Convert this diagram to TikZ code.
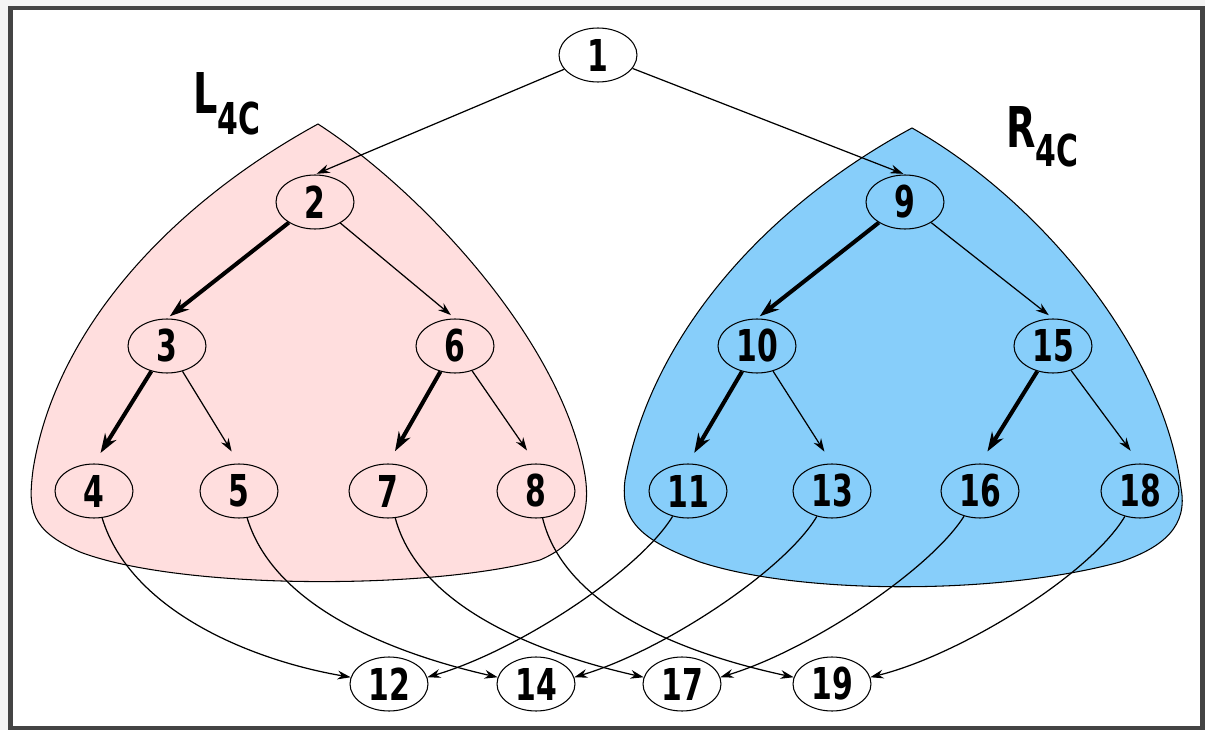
\documentclass[tikz,border=0pt]{standalone}
\usepackage{fontspec}
\setmainfont{DejaVu Sans}[FakeStretch=0.68]
\usetikzlibrary{arrows.meta,shapes.geometric}
\definecolor{leftfill}{RGB}{255,222,222}
\definecolor{rightfill}{RGB}{135,206,250}
\definecolor{framegray}{RGB}{68,68,68}
\definecolor{outside}{RGB}{244,244,244}
\begin{document}
\begin{tikzpicture}[x=0.02cm,y=-0.02cm,
  vertex/.style={ellipse,draw,line width=0.6pt,minimum width=1.56cm,
    minimum height=1.08cm,inner sep=0pt,
    font=\fontsize{25}{25}\selectfont\bfseries},
  thinedge/.style={-{Stealth[length=7.5pt,width=5pt]},line width=0.7pt},
  thickedge/.style={-{Stealth[length=11pt,width=7.5pt]},line width=2.3pt},
  crossedge/.style={-{Stealth[length=7.5pt,width=5pt]},line width=0.7pt},
  region/.style={draw,line width=0.6pt},
  setlabel/.style={inner sep=0pt,anchor=base west,
    font=\fontsize{32}{32}\selectfont\bfseries}
]
% page background and frame
\fill[outside] (0,0) rectangle (1205,730);
\useasboundingbox (0,0) rectangle (1205,730);
\draw[framegray,fill=white,line width=2.8pt] (10.5,8) rectangle (1202.5,728);

% the two shaded subtrees
\path[region,fill=leftfill] (318,124)
  .. controls (170,205) and (55,330) .. (33,470)
  .. controls (28,510) and (30,530) .. (80,552)
  .. controls (180,590) and (430,590) .. (540,560)
  .. controls (575,545) and (592,520) .. (585,475)
  .. controls (562,340) and (420,190) .. cycle;
\path[region,fill=rightfill] (912,128)
  .. controls (760,210) and (650,340) .. (625,480)
  .. controls (620,520) and (640,540) .. (700,562)
  .. controls (800,595) and (1000,595) .. (1120,562)
  .. controls (1165,547) and (1188,525) .. (1181,488)
  .. controls (1164,350) and (1040,200) .. cycle;

% set labels
\node[setlabel] (lab L) at (193,113) {L{\fontsize{25}{25}\selectfont\raisebox{-12pt}{4C}}};
\node[setlabel] (lab R) at (1006,147) {R{\fontsize{25}{25}\selectfont\raisebox{-11pt}{4C}}};

% vertices
\node[vertex] (n1) at (598,55) {1};
\node[vertex] (n2) at (315,202) {2};
\node[vertex] (n9) at (905,202) {9};
\node[vertex] (n3) at (167,346) {3};
\node[vertex] (n6) at (455,346) {6};
\node[vertex] (n10) at (757,346) {10};
\node[vertex] (n15) at (1053,346) {15};
\node[vertex] (n4) at (94,491) {4};
\node[vertex] (n5) at (239,491) {5};
\node[vertex] (n7) at (388,491) {7};
\node[vertex] (n8) at (536,491) {8};
\node[vertex] (n11) at (688,491) {11};
\node[vertex] (n13) at (832,491) {13};
\node[vertex] (n16) at (980,491) {16};
\node[vertex] (n18) at (1140,491) {18};
\node[vertex] (n12) at (389,684) {12};
\node[vertex] (n14) at (536,684) {14};
\node[vertex] (n17) at (682,684) {17};
\node[vertex] (n19) at (832,684) {19};

% tree edges
\draw[thinedge,shorten >=1pt] (n1) -- (n2.north);
\draw[thinedge,shorten >=1pt] (n1) -- (n9.north);
\draw[thickedge,shorten >=2pt] (n2) -- (n3.north);
\draw[thinedge,shorten >=3pt] (n2) -- (n6.north);
\draw[thickedge,shorten >=2pt] (n9) -- (n10.north);
\draw[thinedge,shorten >=3pt] (n9) -- (n15.north);
\draw[thickedge,shorten >=7pt] (n3) -- (n4.north);
\draw[thinedge,shorten >=8pt] (n3) -- (n5.north);
\draw[thickedge,shorten >=8pt] (n6) -- (n7.north);
\draw[thinedge,shorten >=9pt] (n6) -- (n8.north);
\draw[thickedge,shorten >=7pt] (n10) -- (n11.north);
\draw[thinedge,shorten >=8pt] (n10) -- (n13.north);
\draw[thickedge,shorten >=8pt] (n15) -- (n16.north);
\draw[thinedge,shorten >=9pt] (n15) -- (n18.north);

% cross edges to the bottom row
\draw[crossedge] (n4) .. controls (130,610) and (250,660) .. (n12.170);
\draw[crossedge] (n5) .. controls (275,610) and (400,655) .. (n14.170);
\draw[crossedge] (n7) .. controls (420,610) and (545,655) .. (n17.170);
\draw[crossedge] (n8) .. controls (565,610) and (690,655) .. (n19.170);
\draw[crossedge] (n11) .. controls (640,570) and (520,650) .. (n12.10);
\draw[crossedge] (n13) .. controls (785,570) and (665,650) .. (n14.10);
\draw[crossedge] (n16) .. controls (930,570) and (810,650) .. (n17.10);
\draw[crossedge] (n18) .. controls (1090,575) and (960,655) .. (n19.10);
\end{tikzpicture}
\end{document}
